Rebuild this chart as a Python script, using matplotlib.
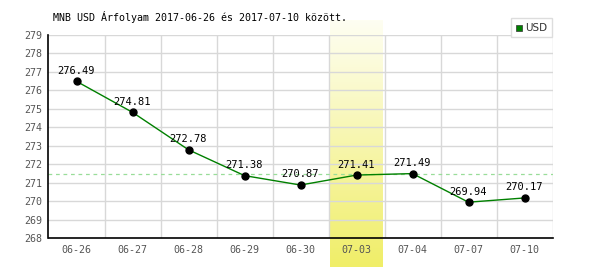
import numpy as np
import matplotlib.pyplot as plt

# MNB USD rates, 2017-06-26 .. 2017-07-10
dates = ['06-26', '06-27', '06-28', '06-29', '06-30', '07-03', '07-04', '07-07', '07-10']
rates = [276.49, 274.81, 272.78, 271.38, 270.87, 271.41, 271.49, 269.94, 270.17]
ref_level = 271.45
highlight_idx = 5
yticks = list(range(268, 280))

plt.rcParams['font.family'] = ['DejaVu Sans Mono', 'DejaVu Sans']

fig = plt.figure(figsize=(6, 2.7), dpi=100)
ax = fig.add_axes([48.5 / 600, 1 - 238 / 270, 504 / 600, 203 / 270])
ax.set_facecolor('none')

x = np.arange(len(dates))
ymin, ymax = 268, 279
upp = (ymax - ymin) / 203  # data units per pixel

# yellow gradient column behind the highlighted day, sticking out of the axes
grad = np.linspace(0, 1, 100)[:, None]
top = np.array([254, 254, 242]) / 255
bot = np.array([240, 238, 104]) / 255
img = top + (bot - top) * grad[..., None]
img = np.repeat(img, 2, axis=1)
ax.imshow(img, extent=(highlight_idx - 0.48, highlight_idx + 0.45,
                       ymin - 29 * upp, ymax + 15 * upp),
          aspect='auto', origin='upper', clip_on=False, zorder=0)

for xv in np.arange(0.5, len(dates) + 0.5, 1):
    ax.axvline(xv, color='#d8d8d8', lw=1, zorder=1)
for yv in yticks[1:]:
    ax.axhline(yv, color='#d8d8d8', lw=1, zorder=1)

ax.axhline(ref_level, color='#99dd99', lw=0.9, ls=(0, (3, 3)), zorder=2)

ax.plot(x, rates, color='#008000', lw=1, zorder=3)
ax.plot(x, rates, 'o', color='black', ms=5, zorder=4)
for xi, v in zip(x, rates):
    ax.annotate(f'{v:.2f}', (xi, v), xytext=(0, 4), textcoords='offset points',
                ha='center', va='bottom', fontsize=7.5, color='black', zorder=5)

ax.set_xlim(-0.5, len(dates) - 0.5)
ax.set_ylim(ymin, ymax)
ax.set_xticks(x)
ax.set_xticklabels(dates)
ax.set_yticks(yticks)
ax.tick_params(axis='both', length=0, labelsize=7.2, colors='#555555', pad=5)
ax.tick_params(axis='y', pad=4.5)

for s in ['top', 'right']:
    ax.spines[s].set_visible(False)
ax.spines['left'].set_color('black')
ax.spines['bottom'].set_color('black')
ax.spines['left'].set_linewidth(1.2)
ax.spines['bottom'].set_linewidth(1.2)

fig.text(53 / 600, 1 - 17 / 270, 'MNB USD Árfolyam 2017-06-26 és 2017-07-10 között.',
         fontsize=7.2, color='black', va='center', ha='left')

# legend box
lx, ly, lw_, lh = 511 / 600, 1 - 37 / 270, 41 / 600, 19 / 270
fig.patches.append(plt.Rectangle((lx, ly), lw_, lh, transform=fig.transFigure,
                                 facecolor='white', edgecolor='#dddddd', lw=1))
fig.patches.append(plt.Rectangle((516 / 600, 1 - 31 / 270), 6 / 600, 6 / 270,
                                 transform=fig.transFigure, facecolor='#008000',
                                 edgecolor='#333333', lw=0.5))
fig.text(525 / 600, 1 - 28 / 270, 'USD', fontsize=7.5, color='#333333',
         va='center', ha='left', family='DejaVu Sans')

fig.savefig('out.png', dpi=100)
